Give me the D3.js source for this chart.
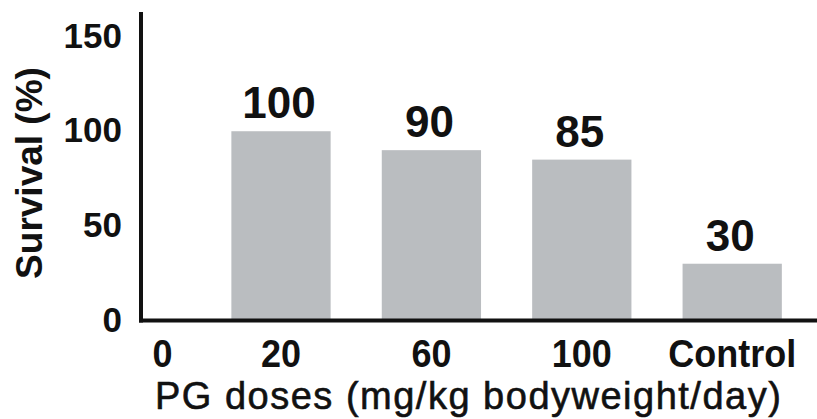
<!DOCTYPE html>
<html>
<head>
<meta charset="utf-8">
<script src="https://cdn.jsdelivr.net/npm/d3@7"></script>
<style>
  body { margin: 0; background: #fff; }
  svg { display: block; font-family: "Liberation Sans", Arial, sans-serif; }
</style>
</head>
<body>
<div id="container"></div>
<script>
// Chart data
const categories = ["0", "20", "60", "100", "Control"];
const survival = [null, 100, 90, 85, 30];
const yTicks = [0, 50, 100, 150];

const width = 817,
  height = 419;

// Plot area
const axisX = 141, axisY = 320.5, topY = 12;

const svg = d3.select("#container")
  .append("svg")
  .attr("width", width)
  .attr("height", height);

// Scales
const y = d3.scaleLinear()
  .domain([0, 163])
  .range([axisY, topY]);

const x = d3.scaleBand()
  .domain(categories)
  .range([55.4, 807.4])
  .paddingInner(0.34)
  .paddingOuter(0.17);

const data = categories.map((c, i) => ({ cat: c, value: survival[i] }));
const bars = data.filter(d => d.value !== null);

// Bars
svg.selectAll(".bar")
  .data(bars)
  .join("rect")
  .attr("class", "bar")
  .attr("x", d => x(d.cat))
  .attr("y", d => y(d.value))
  .attr("width", x.bandwidth())
  .attr("height", d => y(0) - y(d.value))
  .attr("fill", "#babdc0");

// Value labels above bars
svg.selectAll(".val")
  .data(bars)
  .join("text")
  .attr("class", "val")
  .attr("x", d => x(d.cat) + x.bandwidth() / 2 - 2)
  .attr("y", d => y(d.value) - 13)
  .attr("text-anchor", "middle")
  .attr("font-size", 44)
  .attr("font-weight", "bold")
  .attr("fill", "#111")
  .text(d => d.value);

// Y axis (labels only, no tick marks)
const yAxis = d3.axisLeft(y).tickValues(yTicks).tickSize(0).tickPadding(19);
const gy = svg.append("g")
  .attr("transform", `translate(${axisX},0)`)
  .call(yAxis);
gy.select(".domain").remove();
gy.selectAll("text")
  .attr("font-size", 35)
  .attr("font-weight", "bold")
  .attr("font-family", "Liberation Sans, Arial, sans-serif")
  .attr("fill", "#111")
  .attr("dy", "0.3em");

// X axis (labels only, slightly tall glyphs)
const xAxis = d3.axisBottom(x).tickSize(0).tickPadding(0);
const gx = svg.append("g")
  .attr("transform", `translate(0,${axisY})`)
  .call(xAxis);
gx.select(".domain").remove();
gx.selectAll("text")
  .attr("font-size", 36)
  .attr("font-weight", "bold")
  .attr("font-family", "Liberation Sans, Arial, sans-serif")
  .attr("fill", "#111")
  .attr("dy", null)
  .attr("y", 0)
  .attr("transform", d => `translate(${d === "0" ? 32 : 0},46) scale(1,1.1)`);

// Axis lines
svg.append("line")
  .attr("x1", axisX).attr("x2", axisX)
  .attr("y1", topY).attr("y2", axisY + 2)
  .attr("stroke", "#111").attr("stroke-width", 4);
svg.append("line")
  .attr("x1", axisX - 2).attr("x2", width)
  .attr("y1", axisY).attr("y2", axisY)
  .attr("stroke", "#111").attr("stroke-width", 4);

// Axis titles
svg.append("text")
  .attr("x", 155)
  .attr("y", 409)
  .attr("font-size", 38)
  .attr("letter-spacing", 1.5)
  .attr("fill", "#111")
  .attr("stroke", "#111")
  .attr("stroke-width", 0.6)
  .text("PG doses (mg/kg bodyweight/day)");

svg.append("text")
  .attr("transform", "translate(42,173) rotate(-90)")
  .attr("text-anchor", "middle")
  .attr("font-size", 37)
  .attr("font-weight", "bold")
  .attr("fill", "#111")
  .text("Survival (%)");
</script>
</body>
</html>
